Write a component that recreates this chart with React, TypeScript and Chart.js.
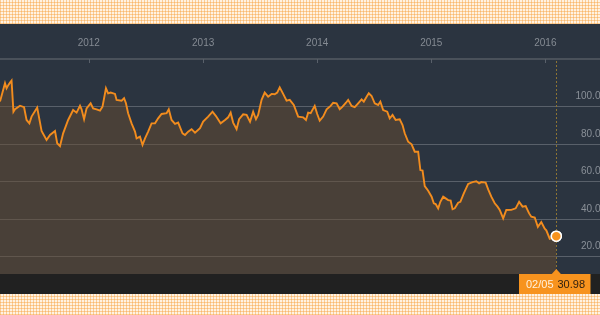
import React, { useEffect, useRef } from "react";
import { Chart, registerables } from "chart.js";

Chart.register(...registerables);

const dates = [
  "2011-03-23", "2011-04-08", "2011-04-13", "2011-04-19", "2011-04-24", "2011-04-29",
  "2011-05-05", "2011-05-10", "2011-05-26", "2011-06-08", "2011-06-16", "2011-06-25",
  "2011-07-02", "2011-07-20", "2011-08-03", "2011-08-19", "2011-08-30", "2011-09-15",
  "2011-09-22", "2011-10-01", "2011-10-11", "2011-10-27", "2011-11-12", "2011-11-23",
  "2011-12-04", "2011-12-09", "2011-12-17", "2011-12-25", "2012-01-07", "2012-01-15",
  "2012-01-26", "2012-02-06", "2012-02-14", "2012-02-25", "2012-03-03", "2012-03-11",
  "2012-03-25", "2012-03-30", "2012-04-15", "2012-04-23", "2012-04-29", "2012-05-06",
  "2012-05-17", "2012-05-28", "2012-06-02", "2012-06-13", "2012-06-21", "2012-06-29",
  "2012-07-09", "2012-07-20", "2012-07-31", "2012-08-10", "2012-08-21", "2012-09-06",
  "2012-09-13", "2012-09-22", "2012-10-03", "2012-10-13", "2012-10-27", "2012-11-04",
  "2012-11-14", "2012-11-25", "2012-12-06", "2012-12-22", "2013-01-01", "2013-01-17",
  "2013-01-31", "2013-02-11", "2013-02-26", "2013-03-12", "2013-03-22", "2013-03-30",
  "2013-04-07", "2013-04-18", "2013-04-26", "2013-05-09", "2013-05-20", "2013-05-31",
  "2013-06-10", "2013-06-19", "2013-06-26", "2013-07-07", "2013-07-17", "2013-07-28",
  "2013-08-08", "2013-08-18", "2013-08-26", "2013-09-03", "2013-09-14", "2013-09-25",
  "2013-10-05", "2013-10-18", "2013-11-01", "2013-11-17", "2013-11-26", "2013-12-03",
  "2013-12-11", "2013-12-24", "2014-01-01", "2014-01-09", "2014-01-20", "2014-01-31",
  "2014-02-13", "2014-02-21", "2014-03-04", "2014-03-14", "2014-03-23", "2014-04-03",
  "2014-04-10", "2014-04-21", "2014-05-01", "2014-05-12", "2014-05-23", "2014-05-30",
  "2014-06-08", "2014-06-15", "2014-06-24", "2014-07-04", "2014-07-15", "2014-07-22",
  "2014-07-31", "2014-08-13", "2014-08-21", "2014-08-30", "2014-09-09", "2014-09-22",
  "2014-10-01", "2014-10-08", "2014-10-19", "2014-10-30", "2014-11-09", "2014-11-20",
  "2014-11-27", "2014-12-04", "2014-12-11", "2014-12-22", "2015-01-02", "2015-01-09",
  "2015-01-15", "2015-01-23", "2015-01-30", "2015-02-08", "2015-02-16", "2015-02-24",
  "2015-03-04", "2015-03-10", "2015-03-17", "2015-03-28", "2015-04-04", "2015-04-15",
  "2015-04-29", "2015-05-13", "2015-05-25", "2015-06-03", "2015-06-10", "2015-06-24",
  "2015-07-02", "2015-07-12", "2015-07-23", "2015-08-01", "2015-08-08", "2015-08-19",
  "2015-08-29", "2015-09-14", "2015-09-28", "2015-10-09", "2015-10-20", "2015-10-30",
  "2015-11-10", "2015-11-17", "2015-11-28", "2015-12-08", "2015-12-19", "2015-12-30",
  "2016-01-04", "2016-01-15", "2016-01-25", "2016-02-05",
];

const prices = [
  102.7, 112.5, 109.8, 111.6, 112.8, 113.9,
  97.3, 98.6, 100.5, 99.7, 92.9, 91.1,
  94.7, 99.5, 87.0, 82.2, 84.9, 87.0,
  80.5, 79.0, 85.8, 92.9, 98.2, 96.8,
  100.5, 98.6, 93.3, 99.1, 101.8, 99.1,
  98.6, 97.9, 100.0, 109.8, 107.1, 107.5,
  106.8, 103.6, 103.2, 104.5, 101.8, 96.5,
  91.1, 86.7, 83.1, 84.0, 79.6, 83.1,
  86.7, 91.1, 91.1, 93.8, 96.1, 96.5,
  98.6, 92.9, 90.8, 91.5, 85.8, 84.9,
  86.7, 88.0, 86.1, 88.5, 92.0, 94.7,
  97.3, 95.0, 91.1, 92.9, 94.3, 96.8,
  91.5, 88.0, 93.3, 95.9, 95.6, 92.0,
  97.3, 93.3, 95.6, 103.6, 107.5, 105.3,
  106.8, 106.6, 107.5, 110.3, 106.8, 103.2,
  103.6, 100.9, 94.7, 94.3, 92.9, 96.8,
  96.5, 100.4, 96.1, 92.5, 94.7, 98.6,
  100.4, 102.1, 101.8, 98.6, 100.0, 102.1,
  103.6, 100.4, 99.7, 101.8, 103.9, 102.7,
  105.3, 107.1, 105.7, 101.8, 100.9, 102.7,
  98.2, 97.3, 93.8, 95.6, 92.9, 93.3,
  90.2, 85.8, 81.3, 79.9, 76.0, 76.0,
  66.2, 65.9, 57.7, 55.2, 52.0, 48.5,
  48.1, 45.8, 49.3, 52.0, 51.1, 50.2,
  49.9, 45.3, 45.8, 48.8, 49.3, 53.8,
  58.8, 59.8, 60.2, 59.1, 59.8, 59.5,
  55.9, 52.0, 48.5, 46.7, 45.0, 40.5,
  44.9, 45.0, 45.8, 49.3, 46.7, 47.0,
  43.1, 41.3, 40.9, 35.9, 38.5, 35.0,
  34.1, 29.6, 30.1, 30.98,
];

const yearTicks = [2012, 2013, 2014, 2015, 2016];
const priceTicks = [20, 40, 60, 80, 100];
const axisStart = "2011-03-23";
const axisEnd = "2016-07-13";
const priceMin = 10.8;
const priceMax = 125.4;

const FONT = "'Liberation Sans', Arial, Helvetica, sans-serif";
const toTime = (d: string) => Date.parse(d + "T00:00:00Z");

const decorPlugin = {
  id: "decor",
  beforeDraw(chart: any) {
    const { ctx, chartArea, width, height } = chart;
    ctx.save();
    ctx.fillStyle = "#2b3440";
    ctx.fillRect(0, 0, width, height);
    ctx.fillStyle = "#212121";
    ctx.fillRect(0, chartArea.bottom, width, height - chartArea.bottom);
    ctx.restore();
  },
  afterDatasetsDraw(chart: any) {
    const { ctx, chartArea } = chart;
    const xs = chart.scales.x;
    ctx.save();
    // tick marks hanging below the top axis line
    ctx.strokeStyle = "#59606a";
    ctx.lineWidth = 1;
    xs.ticks.forEach((t: any) => {
      const px = Math.round(xs.getPixelForValue(t.value)) + 0.5;
      ctx.beginPath();
      ctx.moveTo(px, chartArea.top);
      ctx.lineTo(px, chartArea.top + 4);
      ctx.stroke();
    });
    // dotted cursor line at the last point
    const meta = chart.getDatasetMeta(0);
    const last = meta.data[meta.data.length - 1];
    const lx = Math.round(last.x) + 0.5;
    ctx.setLineDash([2, 2]);
    ctx.strokeStyle = "#8d7433";
    ctx.lineWidth = 1;
    ctx.beginPath();
    ctx.moveTo(lx, chartArea.top + 2);
    ctx.lineTo(lx, chartArea.bottom);
    ctx.stroke();
    ctx.setLineDash([]);
    // redraw last point above the cursor line
    last.draw(ctx, chartArea);

    // value tag
    const top = chartArea.bottom;
    const h = chart.height - chartArea.bottom;
    ctx.fillStyle = "#f7931e";
    ctx.fillRect(Math.round(last.x) - 37, top, 71.5, h);
    ctx.beginPath();
    ctx.moveTo(last.x - 5, top + 0.5);
    ctx.lineTo(last.x, top - 5);
    ctx.lineTo(last.x + 5, top + 0.5);
    ctx.closePath();
    ctx.fill();
    const lastDate = dates[dates.length - 1];
    const label = lastDate.slice(5, 7) + "/" + lastDate.slice(8, 10);
    const value = prices[prices.length - 1].toFixed(2);
    ctx.font = "11px " + FONT;
    ctx.textBaseline = "middle";
    ctx.textAlign = "left";
    ctx.fillStyle = "#fff1de";
    ctx.fillText(label, Math.round(last.x) - 30, top + h / 2 + 0.5);
    ctx.textAlign = "right";
    ctx.fillStyle = "#2a1d10";
    ctx.fillText(value, Math.round(last.x) + 29, top + h / 2 + 0.5);
    ctx.restore();
  },
};

export default function App() {
  const ref = useRef<HTMLCanvasElement | null>(null);

  useEffect(() => {
    if (!ref.current) return;
    const lastIndex = prices.length - 1;
    const chart = new Chart(ref.current, {
      type: "line",
      data: {
        datasets: [
          {
            data: dates.map((d, i) => ({ x: toTime(d), y: prices[i] })),
            borderColor: "#f28c1e",
            borderWidth: 1.9,
            backgroundColor: "rgba(104,75,48,0.5)",
            fill: "start",
            tension: 0,
            pointRadius: (c: any) => (c.dataIndex === lastIndex ? 5 : 0),
            pointBackgroundColor: "#f7931e",
            pointBorderColor: "#ffffff",
            pointBorderWidth: 1.5,
            pointHoverRadius: 0,
          },
        ],
      },
      options: {
        animation: false,
        responsive: false,
        events: [],
        layout: { autoPadding: false, padding: { top: 4, bottom: 20, left: 0, right: 6 } },
        plugins: { legend: { display: false }, tooltip: { enabled: false } },
        scales: {
          x: {
            type: "linear",
            position: "top",
            min: toTime(axisStart),
            max: toTime(axisEnd),
            afterBuildTicks: (scale: any) => {
              scale.ticks = yearTicks.map((y) => ({ value: Date.UTC(y, 0, 1) }));
            },
            grid: { display: false, drawTicks: false },
            border: { display: true, color: "#4a515a", width: 2 },
            ticks: {
              color: "#858b93",
              font: { family: FONT, size: 10 },
              padding: 9.5,
              maxRotation: 0,
              autoSkip: false,
              callback: (v: any) => String(new Date(v).getUTCFullYear()),
            },
          },
          y: {
            type: "linear",
            position: "right",
            min: priceMin,
            max: priceMax,
            afterBuildTicks: (scale: any) => {
              scale.ticks = priceTicks.map((v) => ({ value: v }));
            },
            grid: { color: "rgba(255,255,255,0.22)", lineWidth: 1, drawTicks: false },
            border: { display: false },
            ticks: {
              mirror: true,
              padding: 0,
              labelOffset: -10,
              color: "#8a9098",
              font: { family: FONT, size: 10 },
              callback: (v: any) => Number(v).toFixed(2),
            },
          },
        },
      },
      plugins: [decorPlugin],
    });
    return () => chart.destroy();
  }, []);

  const pattern =
    "repeating-linear-gradient(0deg, rgba(247,160,60,0.45) 0px, rgba(247,160,60,0.45) 1px, transparent 1px, transparent 3px), " +
    "repeating-linear-gradient(90deg, rgba(247,160,60,0.45) 0px, rgba(247,160,60,0.45) 1px, transparent 1px, transparent 3px)";

  return (
    <div
      style={{
        position: "absolute",
        left: 0,
        top: 0,
        width: 600,
        height: 315,
        overflow: "hidden",
        backgroundColor: "#fff2e2",
        backgroundImage: pattern,
      }}
    >
      <div
        style={{
          position: "absolute",
          left: 0,
          top: 24,
          width: 600,
          height: 270,
          overflow: "hidden",
          background: "#2b3440",
        }}
      >
        <canvas
          ref={ref}
          width={612}
          height={270}
          style={{ display: "block", width: 612, height: 270 }}
        />
      </div>
    </div>
  );
}
